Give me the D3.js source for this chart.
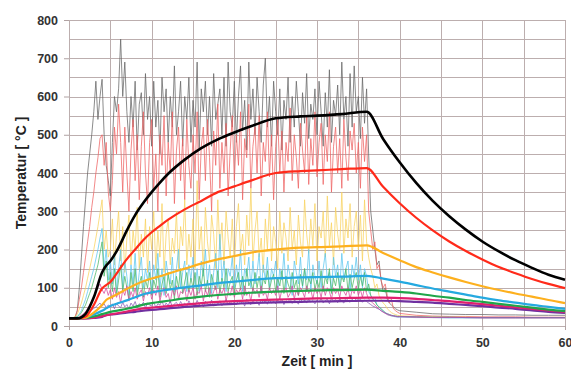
<!DOCTYPE html>
<html>
<head>
<meta charset="utf-8">
<script src="https://cdn.jsdelivr.net/npm/d3@7"></script>
<style>
  body { margin: 0; background: #fff; }
  svg { display: block; font-family: "Liberation Sans", Arial, sans-serif; }
</style>
</head>
<body>
<svg id="chart" width="571" height="370"></svg>
<script>
// smooth (averaged) curves, sampled at these minutes
const smoothTime = [0,1,2,3,4,4.5,5,6,7,8,9,10,11,12,14,16,18,20,22,25,28,30,33,36,38,40,42,44,46,48,50,52,54,56,58,60];
const blackMean  = [20,20,32,75,140,158,170,205,250,290,322,350,375,398,435,465,488,506,522,543,548,550,554,560,489,428,374,327,287,252,221,195,172,152,134,121];
const redMean    = [20,20,25,55,98,107,115,145,175,200,225,245,262,278,305,327,350,365,380,400,405,407,410,413,364,321,283,250,221,196,174,154,138,123,110,99];
const orangeMean = [20,20,22,35,55,68,74,85,97,108,117,124,130,137,150,163,174,183,192,200,205,206,208,211,191,172,154,140,127,115,104,94,85,77,68,60];
const blueMean   = [20,20,22,30,40,46,52,60,67,75,83,88,92,95,101,106,112,116,120,125,127,128,129,131,124,116,107,98,90,82,74,67,61,55,50,45];
const greenMean  = [20,20,21,25,31,34,37,41,45,50,56,60,63,66,72,77,81,84,87,90,92,93,94,95,92,89,85,79,74,68,63,58,53,48,43,39];
const pinkMean   = [20,20,20,22,26,28,30,34,38,42,46,48,50,52,56,60,63,65,67,69,71,72,73,74,74,73,71,68,65,61,57,53,49,45,41,37];
const purpleMean = [20,20,20,21,24,28,30,32,35,37,40,42,44,46,50,53,56,58,60,62,63,64,65,66,66,65,63,61,58,55,52,48,45,41,37,34];

// raw measurements: every 0.25 min from 0 to 40, then a tail every 2 min
const rawStep = 0.25;
const rawTailTime = [42,44,46,48,50,52,54,56,58,60];

const greyRaw = [
  20,20,20,22,40,100,180,260,330,400,450,500,560,640,540,600,645,500,420,380,
  340,480,600,560,620,750,600,690,560,480,600,520,640,460,580,610,500,660,540,600,
  470,640,520,590,450,650,560,620,480,600,520,680,500,560,640,470,600,540,650,480,
  590,520,690,460,620,560,640,500,600,470,660,540,580,620,500,650,470,690,560,520,
  640,480,600,680,510,590,460,690,540,620,500,650,560,480,630,700,520,600,470,640,
  560,500,620,460,590,540,650,480,600,520,640,560,470,610,530,660,490,580,540,620,
  500,640,560,470,610,520,670,480,590,550,630,500,690,540,600,470,660,520,680,560,
  600,490,650,530,620,450,300,250,200,160,170,120,90,100,70,60,55,50,45,42,
  40];
const greyTail = [36,32,31,30,30,29,29,28,28,28];

const redRaw = [
  20,20,20,25,40,70,100,140,180,220,260,310,350,400,440,490,500,420,480,350,
  300,380,520,450,580,480,350,520,400,300,460,540,380,500,330,470,560,400,320,480,
  540,360,450,300,500,420,550,340,480,400,560,320,460,520,380,490,330,540,420,360,
  500,400,560,330,470,520,380,540,440,300,510,420,580,360,480,400,530,340,460,550,
  380,500,420,560,330,490,440,580,360,470,520,400,550,340,480,430,560,390,500,330,
  470,540,400,510,350,480,430,570,380,500,440,360,530,460,400,550,370,490,420,560,
  390,480,530,370,500,430,560,350,470,520,400,490,360,540,440,380,510,460,530,400,
  480,360,520,430,500,300,250,200,220,150,160,120,100,110,80,60,70,45,40,36,
  33];
const redTail = [28,26,25,25,24,24,24,23,23,23];

const yellowRaw = [
  20,20,22,25,30,45,60,80,100,125,150,175,200,230,260,295,330,200,250,180,
  200,280,160,240,300,170,260,140,230,290,160,250,200,310,150,240,180,280,140,260,
  200,300,150,250,180,320,140,240,280,160,230,190,300,150,260,210,330,160,240,180,
  280,150,380,200,260,140,310,220,170,290,240,150,330,200,270,160,300,230,180,280,
  150,260,320,190,240,160,290,210,360,170,250,300,180,230,140,280,200,320,170,260,
  220,150,300,190,270,230,170,310,200,250,160,290,220,180,330,240,190,280,210,320,
  170,260,230,300,180,340,210,270,160,310,240,200,350,190,280,230,320,180,260,300,
  200,290,170,330,220,180,150,130,100,110,80,70,60,55,45,40,35,32,30,28,
  27];
const yellowTail = [25,24,23,23,22,22,22,22,22,22];

const blueRaw = [
  20,20,21,23,25,32,40,55,70,90,110,130,150,175,200,230,255,150,200,120,
  170,110,190,90,150,200,100,170,130,80,160,110,190,90,140,180,100,150,120,170,
  90,160,120,190,100,150,80,170,130,110,180,90,150,200,100,140,170,90,160,120,
  180,100,150,90,170,130,200,110,160,85,140,190,100,240,120,170,90,150,130,180,
  100,160,120,200,90,150,130,180,100,170,110,140,190,90,160,120,180,100,150,130,
  170,90,150,120,190,100,160,130,80,170,140,110,180,100,150,120,200,90,160,130,
  110,170,100,150,190,120,140,90,180,130,160,100,190,120,150,170,90,160,130,180,
  120,160,100,150,130,90,80,70,75,55,50,45,40,35,30,28,26,25,24,23,
  23];
const blueTail = [22,22,21,21,21,21,21,21,21,21];

const greenRaw = [
  20,20,21,22,24,28,35,45,55,70,85,100,120,140,160,190,220,130,170,100,
  140,90,150,80,120,160,90,130,100,70,140,90,150,80,110,130,75,120,100,140,
  80,120,100,150,75,110,130,85,140,95,120,70,130,100,150,85,115,140,90,125,
  100,140,80,130,105,150,90,120,75,135,110,95,145,85,125,100,150,90,115,130,
  85,120,140,95,130,80,150,105,120,90,140,100,130,85,125,110,145,95,120,135,
  90,125,105,145,85,130,110,95,140,100,120,80,135,105,150,90,125,110,140,95,
  120,100,145,90,130,110,150,85,125,105,140,95,130,115,150,90,135,100,125,140,
  95,130,105,140,90,110,80,70,65,55,50,45,40,35,32,30,28,27,26,25,
  25];
const greenTail = [24,23,23,22,22,22,22,22,22,22];

const pinkRaw = [
  20,20,20,21,22,24,28,32,38,45,55,65,75,90,100,110,95,85,100,80,
  95,70,100,75,90,60,95,80,105,65,90,75,100,70,85,95,65,90,80,100,
  70,95,80,105,65,90,100,75,85,60,95,80,105,70,90,85,100,65,95,80,
  100,70,90,85,105,65,95,80,100,75,90,105,70,95,85,100,65,90,80,105,
  75,95,85,100,70,105,80,90,65,100,85,95,75,105,80,90,70,100,85,95,
  80,105,70,95,90,100,75,85,105,70,95,80,100,90,75,105,85,95,70,100,
  85,95,75,105,80,100,90,70,100,85,95,75,105,90,80,100,70,95,85,105,
  80,95,75,100,85,70,65,60,55,50,45,40,36,33,30,28,27,26,25,24,
  24];
const pinkTail = [23,22,22,22,21,21,21,21,21,21];

const purpleRaw = [
  20,20,20,20,21,22,24,27,30,33,37,42,46,50,55,60,52,58,48,55,
  50,58,45,60,52,48,62,50,56,45,60,52,64,48,58,54,62,47,60,55,
  52,63,48,58,55,65,50,60,53,66,49,58,62,51,64,55,60,50,66,56,
  60,52,67,55,62,50,65,58,54,68,52,63,57,66,53,61,69,55,64,58,
  62,55,68,58,65,52,70,60,56,67,59,64,54,70,61,66,57,69,60,65,
  58,68,62,70,56,66,63,71,59,67,64,57,72,62,68,60,70,63,66,58,
  68,62,72,60,66,70,58,73,64,69,61,71,65,60,74,66,62,70,64,72,
  66,70,62,68,64,60,56,52,50,46,44,40,37,34,32,30,28,27,26,25,
  25];
const purpleTail = [24,23,23,22,22,22,22,22,22,22];

const xTicks = [0,10,20,30,40,50,60];
const yTicks = [0,100,200,300,400,500,600,700,800];

// ---- layout
const plotLeft = 69, plotRight = 565, plotTop = 20, plotBottom = 326;
const svg = d3.select("#chart");

const x = d3.scaleLinear().domain([0, 60]).range([plotLeft, plotRight]);
const y = d3.scaleLinear().domain([0, 800]).range([plotBottom, plotTop]);

// grid
const grid = svg.append("g").attr("stroke", "#bcaeae").attr("stroke-width", 1);
grid.selectAll("line.h").data(d3.range(0, 801, 50)).enter().append("line")
  .attr("x1", plotLeft).attr("x2", plotRight)
  .attr("y1", d => Math.round(y(d)) + 0.5).attr("y2", d => Math.round(y(d)) + 0.5);
grid.selectAll("line.v").data(d3.range(0, 61, 5)).enter().append("line")
  .attr("y1", plotTop).attr("y2", plotBottom)
  .attr("x1", d => Math.round(x(d)) + 0.5).attr("x2", d => Math.round(x(d)) + 0.5);

// axes
svg.append("g")
  .attr("transform", `translate(0,${plotBottom})`)
  .call(d3.axisBottom(x).tickValues(xTicks).tickSize(4).tickPadding(8))
  .call(g => g.select(".domain").remove())
  .call(g => g.selectAll(".tick line").attr("stroke", "#b0a2a2"))
  .call(g => g.selectAll(".tick text")
      .attr("font-size", 12.5).attr("font-weight", "bold").attr("fill", "#333")
      .attr("font-family", "Liberation Sans, Arial, sans-serif"));

svg.append("g")
  .attr("transform", `translate(${plotLeft},0)`)
  .call(d3.axisLeft(y).tickValues(yTicks).tickSize(5).tickPadding(6))
  .call(g => g.select(".domain").remove())
  .call(g => g.selectAll(".tick line").attr("stroke", "#b0a2a2"))
  .call(g => g.selectAll(".tick text")
      .attr("font-size", 12.5).attr("font-weight", "bold").attr("fill", "#333")
      .attr("font-family", "Liberation Sans, Arial, sans-serif"));

svg.append("text")
  .attr("x", 317).attr("y", 366)
  .attr("text-anchor", "middle")
  .attr("font-size", 14).attr("font-weight", "bold").attr("fill", "#222")
  .text("Zeit [ min ]");

svg.append("text")
  .attr("transform", `translate(26,${(plotTop + plotBottom) / 2}) rotate(-90)`)
  .attr("text-anchor", "middle")
  .attr("font-size", 14).attr("font-weight", "bold").attr("fill", "#222")
  .text("Temperatur [ °C ]");

// ---- raw (noisy) series
function rawPoints(vals, tail) {
  const pts = vals.map((v, i) => [i * rawStep, v]);
  tail.forEach((v, i) => pts.push([rawTailTime[i], v]));
  return pts;
}

const rawLine = d3.line()
  .x(d => x(d[0]))
  .y(d => y(d[1]));

const rawSeries = [
  { vals: greyRaw,   tail: greyTail,   color: "#666666" },
  { vals: redRaw,    tail: redTail,    color: "#ee6464" },
  { vals: yellowRaw, tail: yellowTail, color: "#f9d25e" },
  { vals: blueRaw,   tail: blueTail,   color: "#5cc6ef" },
  { vals: greenRaw,  tail: greenTail,  color: "#4cb866" },
  { vals: pinkRaw,   tail: pinkTail,   color: "#d9489a" },
  { vals: purpleRaw, tail: purpleTail, color: "#8a5cb8" }
];

svg.append("g").selectAll("path")
  .data(rawSeries)
  .enter().append("path")
  .attr("fill", "none")
  .attr("stroke", d => d.color)
  .attr("stroke-width", 0.9)
  .attr("stroke-opacity", 0.85)
  .attr("stroke-linejoin", "round")
  .attr("d", d => rawLine(rawPoints(d.vals, d.tail)));

// ---- smooth curves on top
const meanLine = d3.line()
  .x((d, i) => x(smoothTime[i]))
  .y(d => y(d))
  .curve(d3.curveMonotoneX);

const meanSeries = [
  { vals: purpleMean, color: "#7030a0" },
  { vals: pinkMean,   color: "#e01f6e" },
  { vals: greenMean,  color: "#1fa64a" },
  { vals: blueMean,   color: "#25a9e0" },
  { vals: orangeMean, color: "#fdb01e" },
  { vals: redMean,    color: "#ff2a1a" },
  { vals: blackMean,  color: "#000000" }
];

svg.append("g").selectAll("path")
  .data(meanSeries)
  .enter().append("path")
  .attr("fill", "none")
  .attr("stroke", d => d.color)
  .attr("stroke-width", d => d.color === "#000000" ? 2.6 : 2.2)
  .attr("stroke-linejoin", "round")
  .attr("d", d => meanLine(d.vals));
</script>
</body>
</html>
